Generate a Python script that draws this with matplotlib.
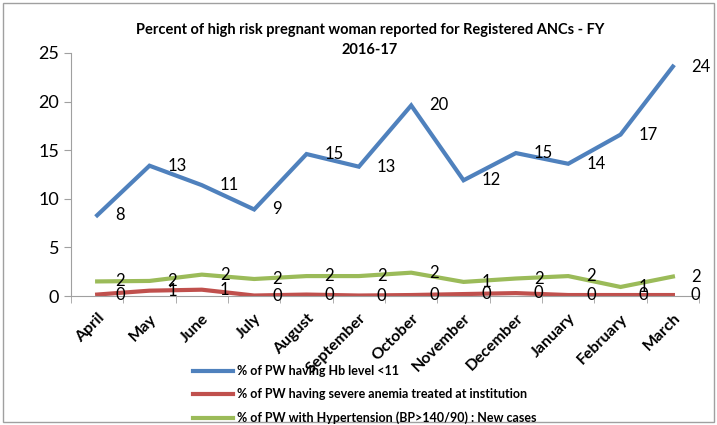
import matplotlib.pyplot as plt
import numpy as np
from matplotlib.patches import Rectangle

plt.rcParams['font.family'] = ['Lato', 'DejaVu Sans']

months = ["April", "May", "June", "July", "August", "September", "October",
          "November", "December", "January", "February", "March"]
hb_low = [8.3, 13.4, 11.4, 8.9, 14.6, 13.3, 19.6, 11.9, 14.7, 13.6, 16.6, 23.6]
severe_anemia = [0.15, 0.55, 0.65, 0.05, 0.15, 0.05, 0.1, 0.2, 0.3, 0.1, 0.1, 0.1]
hypertension = [1.5, 1.55, 2.2, 1.75, 2.05, 2.05, 2.4, 1.45, 1.8, 2.05, 0.93, 2.0]

series_names = ["% of PW having Hb level <11",
                "% of PW having severe anemia treated at institution",
                "% of PW with Hypertension (BP>140/90) : New cases"]
colors = ["#4F81BD", "#C0504D", "#9BBB59"]

fig = plt.figure(figsize=(7.17, 4.25), dpi=100)
ax = fig.add_axes([0.099, 0.3035, 0.876, 0.572])

x = np.arange(len(months))
for vals, name, c in zip([hb_low, severe_anemia, hypertension], series_names, colors):
    ax.plot(x, vals, color=c, lw=3, label=name, solid_joinstyle='miter')
    for xi, v in zip(x, vals):
        ax.annotate("%d" % np.floor(v + 0.5), (xi, v), xytext=(13, 0),
                    textcoords='offset points', ha='left', va='center',
                    fontsize=12, color='black')

ax.set_xlim(-0.5, len(months) - 0.5)
ax.set_ylim(0, 25)
ax.set_yticks([0, 5, 10, 15, 20, 25])
ax.set_xticks(x)
ax.set_xticklabels(months, rotation=45, ha='right', rotation_mode='anchor',
                   fontweight='bold', fontsize=11.5)
ax.set_xticks(np.arange(-0.5, len(months)), minor=True)
ax.tick_params(axis='x', which='major', length=0, pad=11)
ax.tick_params(axis='x', which='minor', length=5, color='#A0A0A0')
ax.tick_params(axis='y', length=5, color='#A0A0A0', labelsize=13)
for s in ['top', 'right']:
    ax.spines[s].set_visible(False)
for s in ['left', 'bottom']:
    ax.spines[s].set_color('#A0A0A0')

fig.text(0.516, 0.945, "Percent of high risk pregnant woman reported for Registered ANCs - FY\n2016-17",
         ha='center', va='top', fontweight='bold', fontsize=10.5, linespacing=1.5)

fig.legend(loc='upper left', bbox_to_anchor=(0.269, 0.141), frameon=False,
           handlelength=3.2, handletextpad=0.3, labelspacing=0.9,
           prop={'weight': 'bold', 'size': 9}, borderaxespad=0, borderpad=0)

fig.patches.append(Rectangle((0.004, 0.006), 0.992, 0.988, transform=fig.transFigure,
                             fill=False, edgecolor='#A0A0A0', lw=1))

fig.savefig("out.png", dpi=100)
